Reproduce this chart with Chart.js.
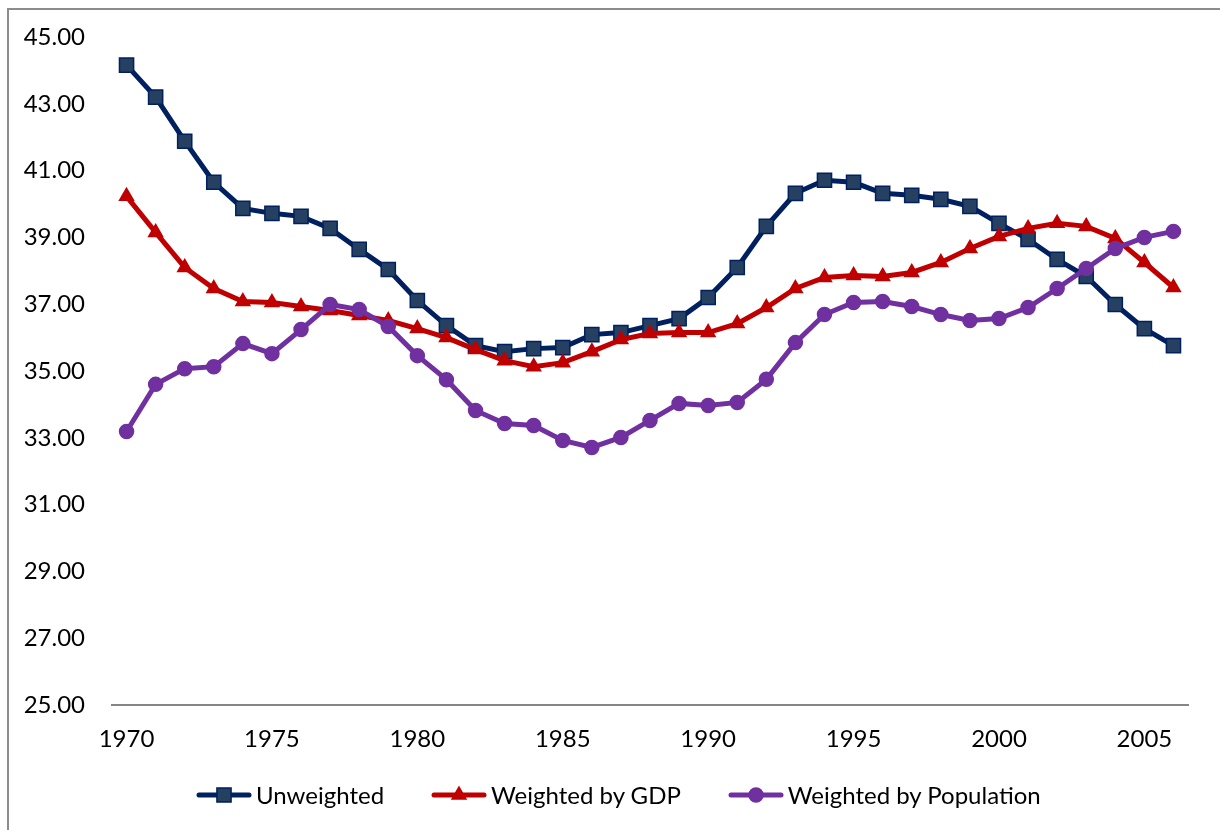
<!DOCTYPE html>
<html>
<head>
<meta charset="utf-8">
<script src="https://cdn.jsdelivr.net/npm/chart.js@4.4.0/dist/chart.umd.min.js"></script>
<style>
  html, body { margin: 0; padding: 0; background: #fff; }
  #wrap { position: relative; width: 1220px; height: 830px; overflow: hidden; }
  #frame { position: absolute; left: 7px; top: 8px; width: 1240px; height: 840px;
           border-left: 2px solid #8c8c8c; border-top: 2px solid #8c8c8c; }
  #chart { position: absolute; left: 0; top: 0; }
  #legend { position: absolute; left: 196px; top: 780px; display: flex; align-items: center;
            font-family: Lato, "Open Sans", sans-serif; font-size: 24px; color: #000; white-space: nowrap; }
  .item { display: flex; align-items: center; margin-right: 47px; }
  .item canvas { margin-right: 4px; }
</style>
</head>
<body>
<div id="wrap">
  <div id="frame"></div>
  <canvas id="chart" width="1220" height="830"></canvas>
  <div id="legend"></div>
</div>
<script>
// Years on the x axis
var years = [];
for (var y = 1970; y <= 2006; y++) years.push(String(y));

// Series values
var unweighted = [44.16, 43.20, 41.88, 40.65, 39.87, 39.72, 39.63, 39.27, 38.64, 38.04,
  37.11, 36.36, 35.76, 35.58, 35.67, 35.70, 36.09, 36.15, 36.36, 36.57,
  37.20, 38.10, 39.33, 40.32, 40.71, 40.65, 40.32, 40.26, 40.14, 39.93,
  39.42, 38.94, 38.34, 37.83, 36.99, 36.27, 35.76];
var weightedGDP = [40.23, 39.15, 38.10, 37.47, 37.08, 37.05, 36.93, 36.81, 36.66, 36.51,
  36.27, 36.00, 35.64, 35.31, 35.13, 35.25, 35.58, 35.94, 36.12, 36.15,
  36.15, 36.42, 36.90, 37.47, 37.80, 37.86, 37.83, 37.95, 38.25, 38.67,
  39.03, 39.27, 39.42, 39.33, 38.97, 38.25, 37.50];
var weightedPop = [33.19, 34.60, 35.07, 35.13, 35.82, 35.52, 36.24, 36.99, 36.84, 36.33,
  35.46, 34.74, 33.82, 33.43, 33.37, 32.92, 32.71, 33.01, 33.52, 34.03,
  33.97, 34.06, 34.75, 35.85, 36.69, 37.05, 37.08, 36.93, 36.69, 36.51,
  36.57, 36.90, 37.47, 38.07, 38.67, 39.00, 39.18];

var seriesNames = ["Unweighted", "Weighted by GDP", "Weighted by Population"];
var lineColors = ["#002060", "#C00000", "#7030A0"];
var fillColors = ["#254061", "#C00000", "#7030A0"];
var markers = ["rect", "triangle", "circle"];
var markerSizes = [10, 8, 7];

var FONT = "Lato, 'Open Sans', sans-serif";

var ctx = document.getElementById("chart").getContext("2d");

function makeDataset(i, values, order) {
  return {
    label: seriesNames[i],
    data: values,
    borderColor: lineColors[i],
    backgroundColor: fillColors[i],
    pointBackgroundColor: fillColors[i],
    pointBorderColor: lineColors[i],
    pointBorderWidth: 1.5,
    pointStyle: markers[i],
    pointRadius: markerSizes[i],
    pointHoverRadius: markerSizes[i],
    borderWidth: 5,
    tension: 0,
    order: order,
  };
}

var chart = new Chart(ctx, {
  type: "line",
  data: {
    labels: years,
    datasets: [
      makeDataset(0, unweighted, 2),
      makeDataset(1, weightedGDP, 1),
      makeDataset(2, weightedPop, 0),
    ],
  },
  options: {
    responsive: false,
    animation: false,
    layout: { padding: { left: 10, right: 32, top: 37, bottom: 0 } },
    plugins: {
      legend: { display: false },
      tooltip: { enabled: false },
    },
    scales: {
      x: {
        type: "category",
        offset: true,
        grid: { display: true, drawOnChartArea: false, drawTicks: false },
        border: { display: true, color: "#868686", width: 2 },
        ticks: {
          autoSkip: false,
          maxRotation: 0,
          padding: 20,
          color: "#000",
          font: { family: FONT, size: 24 },
          callback: function (value, index) {
            return (index % 5 === 0) ? years[index] : null;
          },
        },
        afterFit: function (scale) { scale.height = 125; },
      },
      y: {
        min: 25,
        max: 45,
        grid: { display: false },
        border: { display: false },
        ticks: {
          stepSize: 2,
          padding: 19,
          color: "#000",
          font: { family: FONT, size: 24 },
          callback: function (value) { return value.toFixed(2); },
        },
        afterFit: function (scale) { scale.width = 102; },
      },
    },
  },
});

// Legend: line with marker, then the series name
function drawIcon(cv, i) {
  var c = cv.getContext("2d");
  var w = cv.width, h = cv.height, cx = w / 2, cy = h / 2;
  c.strokeStyle = lineColors[i];
  c.lineWidth = 5;
  c.lineCap = "round";
  c.beginPath(); c.moveTo(3, cy); c.lineTo(w - 3, cy); c.stroke();
  c.fillStyle = fillColors[i];
  c.strokeStyle = lineColors[i];
  c.lineWidth = 1.5;
  var r = markerSizes[i];
  c.beginPath();
  if (markers[i] === "rect") {
    var s = r * Math.SQRT1_2;
    c.rect(cx - s, cy - s, 2 * s, 2 * s);
  } else if (markers[i] === "triangle") {
    c.moveTo(cx, cy - r);
    c.lineTo(cx + r * 0.866, cy + r * 0.5);
    c.lineTo(cx - r * 0.866, cy + r * 0.5);
    c.closePath();
  } else {
    c.arc(cx, cy, r, 0, Math.PI * 2);
  }
  c.fill(); c.stroke();
}

var legend = document.getElementById("legend");
seriesNames.forEach(function (name, i) {
  var item = document.createElement("div");
  item.className = "item";
  var cv = document.createElement("canvas");
  cv.width = 56; cv.height = 22;
  drawIcon(cv, i);
  var span = document.createElement("span");
  span.textContent = name;
  item.appendChild(cv);
  item.appendChild(span);
  legend.appendChild(item);
});
</script>
</body>
</html>
